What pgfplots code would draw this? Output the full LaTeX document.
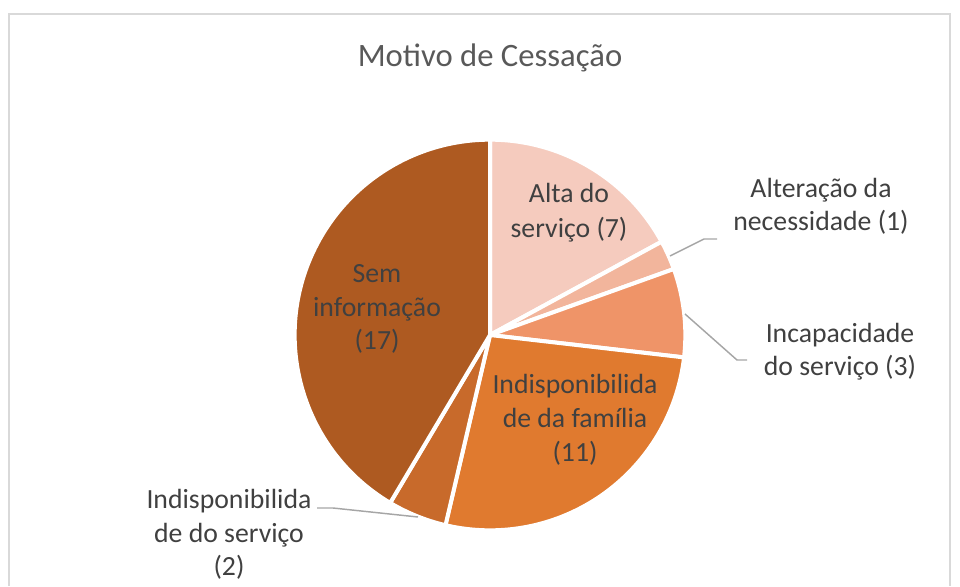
\documentclass[border=0pt]{standalone}
\usepackage{pgfplots}
\pgfplotsset{compat=1.18}
\usepackage{pgfplotstable}
\usepackage{fontspec}
\setmainfont{Carlito}

\definecolor{cAlta}{HTML}{F5CBBE}
\definecolor{cAlter}{HTML}{F2B59C}
\definecolor{cIncap}{HTML}{EF9468}
\definecolor{cFam}{HTML}{E07A2F}
\definecolor{cServ}{HTML}{C86A2B}
\definecolor{cSem}{HTML}{AE5A21}
\definecolor{txt}{HTML}{404040}
\definecolor{ttl}{HTML}{595959}
\definecolor{leader}{HTML}{A6A6A6}
\definecolor{frame}{HTML}{D9D9D9}

% slices, clockwise from 12 o'clock
\pgfplotstableread{
value colour
7  cAlta
1  cAlter
3  cIncap
11 cFam
2  cServ
17 cSem
}\slices

% one label line, positioned on its baseline (pixel coords)
\newcommand{\lbl}[3]{\node[anchor=base, text=txt, inner sep=0pt,
  font=\fontsize{20.8}{25}\selectfont] at (axis cs:#1,#2) {#3};}

\begin{document}
\begin{tikzpicture}
\pgfplotstablegetrowsof{\slices}
\pgfmathtruncatemacro\nlast{\pgfplotsretval-1}
\def\total{0}
\pgfplotsforeachungrouped \i in {0,...,\nlast}{%
  \pgfplotstablegetelem{\i}{value}\of\slices
  \pgfmathsetmacro\total{\total+\pgfplotsretval}}
\begin{axis}[
    scale only axis,
    width=720pt, height=439.5pt,
    xmin=0, xmax=960, ymin=0, ymax=586,
    y dir=reverse,
    hide axis,
    clip=false,
]
\coordinate (tl) at (axis cs:0,0);
\coordinate (br) at (axis cs:960,586);

% chart frame
\draw[frame, line width=1.5pt] (axis cs:9,586) -- (axis cs:9,14) -- (axis cs:950,14) -- (axis cs:950,586);

% pie slices
\def\cum{0}
\pgfplotsforeachungrouped \i in {0,...,\nlast}{%
  \pgfplotstablegetelem{\i}{value}\of\slices \let\val\pgfplotsretval
  \pgfplotstablegetelem{\i}{colour}\of\slices \let\scol\pgfplotsretval
  \pgfmathsetmacro\angA{90-360*\cum/\total}
  \pgfmathsetmacro\angB{90-360*(\cum+\val)/\total}
  \edef\temp{\noexpand\filldraw[fill=\scol, draw=white, line width=3pt, line join=round]
    (axis cs:490,335) -- ++(\angA:146.5pt) arc[start angle=\angA, end angle=\angB, radius=146.5pt] -- cycle;}
  \temp
  \pgfmathsetmacro\cum{\cum+\val}
}

% leader lines
\draw[leader, line width=1.1pt] (axis cs:670,256) -- (axis cs:704,239) -- (axis cs:717,239);
\draw[leader, line width=1.1pt] (axis cs:685,314) -- (axis cs:737,360) -- (axis cs:747,360);
\draw[leader, line width=1.1pt] (axis cs:418,517) -- (axis cs:333,508) -- (axis cs:317,508);

% title
\node[anchor=base, text=ttl, inner sep=0pt, font=\fontsize{24.5}{30}\selectfont]
  at (axis cs:490,66) {Motivo de Cessação};

% data labels
\lbl{569}{202}{Alta do}
\lbl{569}{237}{serviço (7)}
\lbl{821}{197}{Alteração da}
\lbl{821}{230}{necessidade (1)}
\lbl{840}{342}{Incapacidade}
\lbl{840}{375}{do serviço (3)}
\lbl{575}{393}{Indisponibilida}
\lbl{575}{427}{de da família}
\lbl{575}{461}{(11)}
\lbl{377}{282}{Sem}
\lbl{377}{316}{informação}
\lbl{377}{349}{(17)}
\lbl{229}{508}{Indisponibilida}
\lbl{229}{542}{de do serviço}
\lbl{229}{575}{(2)}
\end{axis}
\pgfresetboundingbox
\useasboundingbox (tl) rectangle (br);
\end{tikzpicture}
\end{document}
